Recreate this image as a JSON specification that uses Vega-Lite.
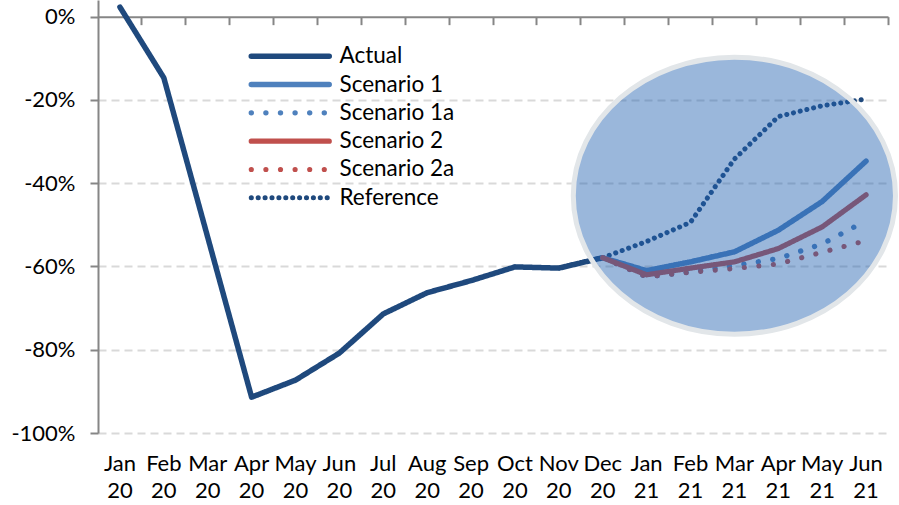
{
  "$schema": "https://vega.github.io/schema/vega-lite/v6.json",
  "width": 790,
  "height": 433,
  "autosize": {"type": "none"},
  "padding": {"left": 98, "top": 0, "right": 11, "bottom": 72},
  "background": "white",
  "config": {"view": {"stroke": null}, "font": "Lato"},
  "datasets": {
    "series": [
      {"month": "Jan 20", "series": "Actual", "value": 2.3},
      {"month": "Feb 20", "series": "Actual", "value": -14.7},
      {"month": "Mar 20", "series": "Actual", "value": -53},
      {"month": "Apr 20", "series": "Actual", "value": -91.4},
      {"month": "May 20", "series": "Actual", "value": -87.3},
      {"month": "Jun 20", "series": "Actual", "value": -80.8},
      {"month": "Jul 20", "series": "Actual", "value": -71.4},
      {"month": "Aug 20", "series": "Actual", "value": -66.3},
      {"month": "Sep 20", "series": "Actual", "value": -63.4},
      {"month": "Oct 20", "series": "Actual", "value": -60.1},
      {"month": "Nov 20", "series": "Actual", "value": -60.4},
      {"month": "Dec 20", "series": "Actual", "value": -57.9},
      {"month": "Dec 20", "series": "Reference", "value": -57.9},
      {"month": "Jan 21", "series": "Reference", "value": -54},
      {"month": "Feb 21", "series": "Reference", "value": -49.4},
      {"month": "Mar 21", "series": "Reference", "value": -34.2},
      {"month": "Apr 21", "series": "Reference", "value": -24},
      {"month": "May 21", "series": "Reference", "value": -21.4},
      {"month": "Jun 21", "series": "Reference", "value": -19.8},
      {"month": "Dec 20", "series": "Scenario 1a", "value": -57.9},
      {"month": "Jan 21", "series": "Scenario 1a", "value": -62.5},
      {"month": "Feb 21", "series": "Scenario 1a", "value": -61.3},
      {"month": "Mar 21", "series": "Scenario 1a", "value": -59.8},
      {"month": "Apr 21", "series": "Scenario 1a", "value": -58.1},
      {"month": "May 21", "series": "Scenario 1a", "value": -54.6},
      {"month": "Jun 21", "series": "Scenario 1a", "value": -49},
      {"month": "Dec 20", "series": "Scenario 2a", "value": -57.9},
      {"month": "Jan 21", "series": "Scenario 2a", "value": -62.5},
      {"month": "Feb 21", "series": "Scenario 2a", "value": -61.4},
      {"month": "Mar 21", "series": "Scenario 2a", "value": -60.5},
      {"month": "Apr 21", "series": "Scenario 2a", "value": -59.4},
      {"month": "May 21", "series": "Scenario 2a", "value": -56.6},
      {"month": "Jun 21", "series": "Scenario 2a", "value": -53.8},
      {"month": "Dec 20", "series": "Scenario 1", "value": -57.9},
      {"month": "Jan 21", "series": "Scenario 1", "value": -61},
      {"month": "Feb 21", "series": "Scenario 1", "value": -58.9},
      {"month": "Mar 21", "series": "Scenario 1", "value": -56.5},
      {"month": "Apr 21", "series": "Scenario 1", "value": -51.3},
      {"month": "May 21", "series": "Scenario 1", "value": -44.4},
      {"month": "Jun 21", "series": "Scenario 1", "value": -34.7},
      {"month": "Dec 20", "series": "Scenario 2", "value": -57.9},
      {"month": "Jan 21", "series": "Scenario 2", "value": -62},
      {"month": "Feb 21", "series": "Scenario 2", "value": -60.4},
      {"month": "Mar 21", "series": "Scenario 2", "value": -58.9},
      {"month": "Apr 21", "series": "Scenario 2", "value": -55.7},
      {"month": "May 21", "series": "Scenario 2", "value": -50.5},
      {"month": "Jun 21", "series": "Scenario 2", "value": -42.8}
    ],
    "highlight": [
      {"month": "Mar 21", "value": -43}
    ]
  },
  "resolve": {"axis": {"x": "independent"}},
  "layer": [
    {
      "data": {"name": "series"},
      "mark": {"type": "line", "strokeCap": "round", "strokeJoin": "round"},
      "encoding": {
        "x": {
          "field": "month", "type": "ordinal",
          "sort": ["Jan 20","Feb 20","Mar 20","Apr 20","May 20","Jun 20","Jul 20","Aug 20","Sep 20","Oct 20","Nov 20","Dec 20","Jan 21","Feb 21","Mar 21","Apr 21","May 21","Jun 21"],
          "scale": {"type": "band", "paddingInner": 0, "paddingOuter": 0},
          "bandPosition": 0.5,
          "axis": {
            "title": null, "domain": false, "ticks": false, "grid": false,
            "labelAngle": 0, "labelExpr": "split(datum.label, ' ')",
            "labelFontSize": 22, "labelFont": "Lato", "labelColor": "#000000",
            "labelPadding": 20, "labelLineHeight": 27, "labelBaseline": "top"
          }
        },
        "y": {
          "field": "value", "type": "quantitative",
          "scale": {"domain": [-100, 4], "nice": false, "zero": false},
          "axis": {
            "title": null, "values": [-100, -80, -60, -40, -20, 0],
            "labelExpr": "datum.value + '%'",
            "labelFontSize": 22, "labelFont": "Lato", "labelColor": "#000000",
            "labelPadding": 15,
            "domainColor": "#868686", "domainWidth": 2,
            "tickColor": "#868686", "tickWidth": 2, "tickSize": 8,
            "grid": true, "gridColor": "#d9d9d9", "gridDash": [8, 5], "gridWidth": 2,
            "gridOpacity": {"condition": {"test": "datum.value === 0", "value": 0}, "value": 1}
          }
        },
        "color": {
          "field": "series", "type": "nominal",
          "scale": {
            "domain": ["Actual", "Scenario 1", "Scenario 1a", "Scenario 2", "Scenario 2a", "Reference"],
            "range": ["#1f497d", "#4f81bd", "#4f81bd", "#c0504d", "#c0504d", "#1f497d"]
          },
          "legend": {
            "title": null, "orient": "none", "legendX": 181, "legendY": 45,
            "symbolType": "M -7.8 0 H 7.8", "symbolSize": 100,
            "labelFontSize": 22.5, "labelFont": "Lato", "labelColor": "#000000",
            "labelOffset": 38, "padding": 0, "rowPadding": 5.3,
            "encode": {"symbols": {"update": {"strokeCap": {"value": "round"}, "fill": {"value": "transparent"}}}}
          }
        },
        "strokeDash": {
          "field": "series", "type": "nominal",
          "scale": {
            "domain": ["Actual", "Scenario 1", "Scenario 1a", "Scenario 2", "Scenario 2a", "Reference"],
            "range": [[1, 0], [1, 0], [0.1, 14.5], [1, 0], [0.1, 14.5], [0.1, 6.8]]
          },
          "legend": null
        },
        "strokeWidth": {
          "field": "series", "type": "nominal",
          "scale": {
            "domain": ["Actual", "Scenario 1", "Scenario 1a", "Scenario 2", "Scenario 2a", "Reference"],
            "range": [5.5, 5, 5.5, 5, 5.5, 2.6]
          },
          "legend": null
        }
      }
    },
    {
      "data": {"name": "highlight"},
      "mark": {
        "type": "point", "filled": true,
        "shape": "M -1 0 C -1 -0.475 -0.5523 -0.86 0 -0.86 C 0.5523 -0.86 1 -0.475 1 0 C 1 0.475 0.5523 0.86 0 0.86 C -0.5523 0.86 -1 0.475 -1 0 Z",
        "size": 103800,
        "fill": "#2060b0", "fillOpacity": 0.45,
        "stroke": "#e2e6e9", "strokeWidth": 5, "strokeOpacity": 1, "opacity": 1
      },
      "encoding": {
        "x": {
          "field": "month", "type": "ordinal",
          "sort": ["Jan 20","Feb 20","Mar 20","Apr 20","May 20","Jun 20","Jul 20","Aug 20","Sep 20","Oct 20","Nov 20","Dec 20","Jan 21","Feb 21","Mar 21","Apr 21","May 21","Jun 21"],
          "bandPosition": 0.5,
          "axis": {
            "title": null, "orient": "bottom", "offset": -416.35, "labels": false, "grid": false,
            "bandPosition": 1,
            "domainColor": "#868686", "domainWidth": 2,
            "tickColor": "#868686", "tickWidth": 2, "tickSize": 8
          }
        },
        "y": {
          "field": "value", "type": "quantitative",
          "axis": {
            "title": null, "values": [-100, -80, -60, -40, -20, 0],
            "labelExpr": "datum.value + '%'",
            "labelFontSize": 22, "labelFont": "Lato", "labelColor": "#000000",
            "labelPadding": 15,
            "domainColor": "#868686", "domainWidth": 2,
            "tickColor": "#868686", "tickWidth": 2, "tickSize": 8,
            "grid": true, "gridColor": "#d9d9d9", "gridDash": [8, 5], "gridWidth": 2,
            "gridOpacity": {"condition": {"test": "datum.value === 0", "value": 0}, "value": 1}
          }
        }
      }
    }
  ]
}
